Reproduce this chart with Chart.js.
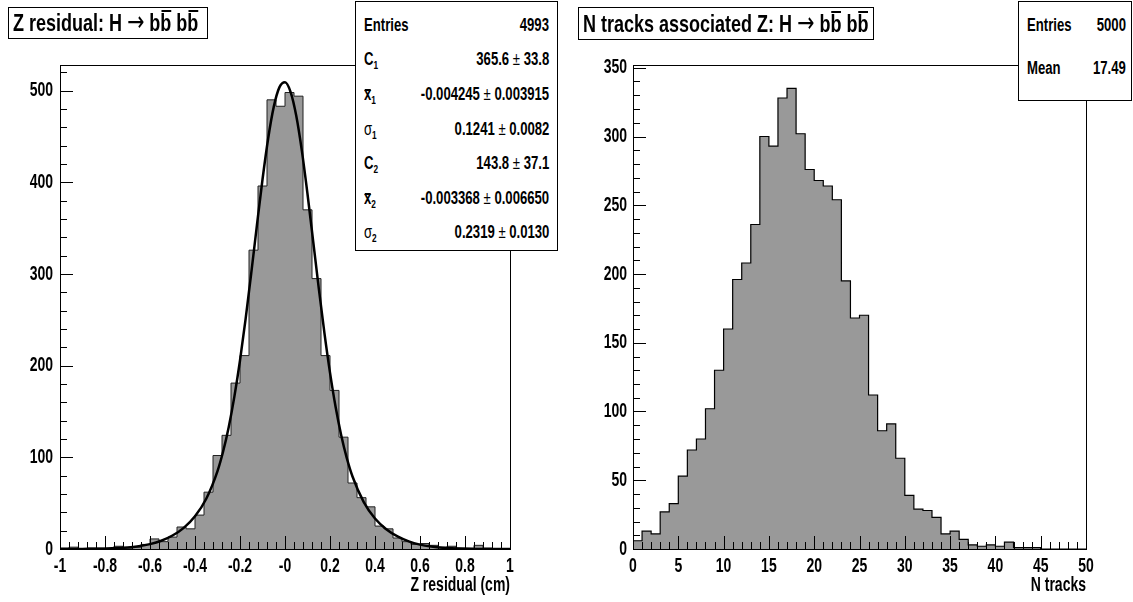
<!DOCTYPE html>
<html>
<head>
<meta charset="utf-8">
<script src="https://cdn.jsdelivr.net/npm/chart.js@4.4.0/dist/chart.umd.min.js"></script>
<style>
body { margin:0; background:#fff; width:1133px; height:602px; overflow:hidden; position:relative;
  font-family:'Liberation Sans',Arial,sans-serif; font-weight:bold; color:#000; }
canvas { position:absolute; top:0; }
.box { position:absolute; box-sizing:border-box; border:1px solid #000; background:#fff; white-space:nowrap; }
.title { font-size:24px; padding-left:4px; }
.arr { font-weight:normal; font-family:'DejaVu Sans',sans-serif; font-size:1.15em; line-height:0; }
.nl { display:inline-block; transform:scaleX(0.75); transform-origin:left center; }
.nr { display:inline-block; transform:scaleX(0.75); transform-origin:right center; }
.ob, .ox { position:relative; }
.ob::after { content:''; position:absolute; left:0.06em; right:0.02em; top:0.06em; border-top:2px solid #000; }
.ox::after { content:''; position:absolute; left:0.05em; right:0.05em; top:0.26em; border-top:2px solid #000; }
.row { position:absolute; left:0; right:0; height:22px; line-height:22px; font-size:17.5px; }
.row .k { position:absolute; left:8px; }
.row .v { position:absolute; right:8px; }
.row sub { font-size:11px; vertical-align:-4px; }
.sym { font-weight:normal; }
</style>
</head>
<body>
<canvas id="cz" width="566" height="602" style="left:0"></canvas>
<canvas id="cn" width="567" height="602" style="left:566px"></canvas>

<div class="box title" style="left:8px;top:7px;width:200px;height:32px;line-height:30px;"><span class="nl">Z residual: H <span class="arr">&rarr;</span> b<span class="ob">b</span> b<span class="ob">b</span></span></div>
<div class="box title" style="left:578px;top:7px;width:296px;height:33px;line-height:31px;"><span class="nl">N tracks associated Z: H <span class="arr">&rarr;</span> b<span class="ob">b</span> b<span class="ob">b</span></span></div>

<div class="box" style="left:355px;top:1px;width:203px;height:250px;">
  <div class="row" style="top:12px"><span class="k nl">Entries</span><span class="v nr">4993</span></div>
  <div class="row" style="top:46px"><span class="k nl">C<sub>1</sub></span><span class="v nr">365.6 <span class="sym">±</span> 33.8</span></div>
  <div class="row" style="top:81px"><span class="k nl"><span class="ox">x</span><sub>1</sub></span><span class="v nr">-0.004245 <span class="sym">±</span> 0.003915</span></div>
  <div class="row" style="top:116px"><span class="k nl"><span class="sym">σ</span><sub>1</sub></span><span class="v nr">0.1241 <span class="sym">±</span> 0.0082</span></div>
  <div class="row" style="top:150px"><span class="k nl">C<sub>2</sub></span><span class="v nr">143.8 <span class="sym">±</span> 37.1</span></div>
  <div class="row" style="top:185px"><span class="k nl"><span class="ox">x</span><sub>2</sub></span><span class="v nr">-0.003368 <span class="sym">±</span> 0.006650</span></div>
  <div class="row" style="top:219px"><span class="k nl"><span class="sym">σ</span><sub>2</sub></span><span class="v nr">0.2319 <span class="sym">±</span> 0.0130</span></div>
</div>
<div class="box" style="left:1018px;top:1px;width:114px;height:100px;">
  <div class="row" style="top:12px"><span class="k nl">Entries</span><span class="v nr" style="right:5px">5000</span></div>
  <div class="row" style="top:55px"><span class="k nl">Mean</span><span class="v nr" style="right:5px">17.49</span></div>
</div>

<script>
// Z residual histogram, 50 bins of 0.04 cm (low edges)
var zBinLow = [-1, -0.96, -0.92, -0.88, -0.84, -0.8, -0.76, -0.72, -0.68, -0.64,
  -0.6, -0.56, -0.52, -0.48, -0.44, -0.4, -0.36, -0.32, -0.28, -0.24,
  -0.2, -0.16, -0.12, -0.08, -0.04, 0, 0.04, 0.08, 0.12, 0.16,
  0.2, 0.24, 0.28, 0.32, 0.36, 0.4, 0.44, 0.48, 0.52, 0.56,
  0.6, 0.64, 0.68, 0.72, 0.76, 0.8, 0.84, 0.88, 0.92, 0.96];
var zCounts = [1, 2, 0, 1, 1, 1, 3, 1, 2, 5,
  11, 8, 13, 24, 22, 37, 62, 102, 124, 181,
  211, 326, 396, 490, 483, 498, 494, 370, 295, 211,
  173, 122, 72, 56, 46, 25, 22, 12, 8, 5,
  6, 4, 2, 3, 1, 1, 4, 1, 0, 0];
var zUpper = 1;

// double gaussian fit curve
var fitX = [-1, -0.9, -0.8, -0.7, -0.65, -0.6, -0.55, -0.5, -0.45, -0.4, -0.35, -0.3, -0.275, -0.25, -0.225,
  -0.2, -0.175, -0.15, -0.125, -0.1, -0.075, -0.05, -0.025, 0, 0.025, 0.05, 0.075, 0.1, 0.125, 0.15, 0.175,
  0.2, 0.225, 0.25, 0.275, 0.3, 0.35, 0.4, 0.45, 0.5, 0.55, 0.6, 0.65, 0.7, 0.8, 0.9, 1];
var fitY = [0, 0.1, 0.4, 1.6, 3.0, 5.3, 9.0, 14.7, 23.1, 35.7, 54.8, 85.0, 106.3, 133.1, 166.2,
  205.6, 251.1, 300.9, 352.8, 403.1, 447.6, 482.3, 503.6, 509.2, 498.5, 472.6, 434.3, 387.3, 336.2, 284.6, 236.0,
  192.4, 154.9, 123.9, 98.9, 79.1, 51.2, 33.3, 21.6, 13.7, 8.3, 4.8, 2.7, 1.4, 0.35, 0.07, 0];

var zXTicks = [-1, -0.8, -0.6, -0.4, -0.2, 0, 0.2, 0.4, 0.6, 0.8, 1];
var zXLabels = ['-1', '-0.8', '-0.6', '-0.4', '-0.2', '-0', '0.2', '0.4', '0.6', '0.8', '1'];
var zYTicks = [0, 100, 200, 300, 400, 500];

// N tracks histogram, bins of width 1
var trkBinLow = [0, 1, 2, 3, 4, 5, 6, 7, 8, 9, 10, 11, 12, 13, 14, 15, 16, 17, 18, 19,
  20, 21, 22, 23, 24, 25, 26, 27, 28, 29, 30, 31, 32, 33, 34, 35, 36, 37, 38, 39,
  40, 41, 42, 43, 44, 45, 46, 47, 48, 49];
var trkCounts = [6, 13, 11, 27, 33, 53, 72, 80, 102, 130, 160, 196, 208, 236, 300, 293, 328, 335, 302, 276,
  268, 264, 254, 195, 168, 170, 112, 86, 91, 66, 39, 29, 28, 23, 11, 13, 7, 3, 2, 3,
  2, 5, 1, 1, 1, 0, 0, 0, 0, 0];
var trkUpper = 50;

var trkXTicks = [0, 5, 10, 15, 20, 25, 30, 35, 40, 45, 50];
var trkYTicks = [0, 50, 100, 150, 200, 250, 300, 350];

var FONT = "'Liberation Sans', Arial, sans-serif";

function histPoints(low, counts, upper) {
  var pts = low.map(function(x, i) { return {x: x, y: counts[i]}; });
  pts.push({x: upper, y: counts[counts.length - 1]});
  return pts;
}

function fixedTicks(list) {
  return function(s) { s.ticks = list.map(function(v) { return {value: v}; }); };
}

// Helvetica-narrow look: squeeze all canvas text horizontally
var narrowText = {
  id: 'narrowText',
  beforeInit: function(chart) {
    var ctx = chart.ctx, orig = ctx.fillText;
    ctx.fillText = function(t, x, y, mw) {
      var w = this.measureText(t).width * 0.70;
      if (mw !== undefined && mw < w) w = mw;
      orig.call(this, t, x, y, w);
    };
  }
};

// ROOT style frame with ticks drawn inside
var rootFrame = {
  id: 'rootFrame',
  afterDatasetsDraw: function(chart, args, opts) {
    var ctx = chart.ctx, a = chart.chartArea, x = chart.scales.x, y = chart.scales.y;
    ctx.save();
    ctx.strokeStyle = '#000';
    ctx.lineWidth = 1;
    ctx.beginPath();
    var n = Math.round((x.max - x.min) / opts.xMinor);
    for (var i = 0; i <= n; i++) {
      var px = Math.round(x.getPixelForValue(x.min + i * opts.xMinor)) + 0.5;
      var len = (i % 5 === 0) ? 13 : 7;
      ctx.moveTo(px, a.bottom);
      ctx.lineTo(px, a.bottom - len);
    }
    var m = Math.floor(y.max / opts.yMinor);
    for (var j = 0; j <= m; j++) {
      var py = Math.round(y.getPixelForValue(j * opts.yMinor)) + 0.5;
      var l2 = (j % 5 === 0) ? 13 : 7;
      ctx.moveTo(a.left, py);
      ctx.lineTo(a.left + l2, py);
    }
    ctx.stroke();
    ctx.strokeRect(Math.round(a.left) + 0.5, Math.round(a.top) + 0.5,
      Math.round(a.right - a.left), Math.round(a.bottom - a.top));
    ctx.restore();
  }
};

function axisFont(size) { return {family: FONT, size: size, weight: 'bold'}; }

new Chart(document.getElementById('cz'), {
  type: 'line',
  data: {
    datasets: [{
      label: 'fit',
      data: fitX.map(function(x, i) { return {x: x, y: fitY[i]}; }),
      borderColor: '#000',
      borderWidth: 2.5,
      pointRadius: 0,
      cubicInterpolationMode: 'monotone',
      fill: false,
      order: 0
    }, {
      label: 'Z residual',
      data: histPoints(zBinLow, zCounts, zUpper),
      stepped: true,
      fill: 'origin',
      backgroundColor: '#999999',
      borderColor: '#222',
      borderWidth: 1,
      pointRadius: 0,
      order: 1
    }]
  },
  options: {
    responsive: false,
    animation: false,
    layout: {padding: {left: 0, right: 56, top: 65, bottom: 0}},
    plugins: {
      legend: {display: false},
      tooltip: {enabled: false},
      rootFrame: {xMinor: 0.04, yMinor: 20}
    },
    scales: {
      x: {
        type: 'linear', min: -1, max: 1,
        grid: {display: false, drawTicks: false}, border: {display: false},
        afterBuildTicks: fixedTicks(zXTicks),
        ticks: {
          color: '#000', font: axisFont(20), padding: 5, maxRotation: 0, autoSkip: false,
          callback: function(v, i) { return zXLabels[i]; }
        },
        title: {display: true, text: 'Z residual (cm)', align: 'end', color: '#000', font: axisFont(20), padding: {top: 0, bottom: 5}},
        afterFit: function(s) { s.height = 53; }
      },
      y: {
        min: 0, max: 528,
        grid: {display: false, drawTicks: false}, border: {display: false},
        afterBuildTicks: fixedTicks(zYTicks),
        ticks: {color: '#000', font: axisFont(20), padding: 7},
        afterFit: function(s) { s.width = 60; }
      }
    }
  },
  plugins: [narrowText, rootFrame]
});

new Chart(document.getElementById('cn'), {
  type: 'line',
  data: {
    datasets: [{
      label: 'N tracks',
      data: histPoints(trkBinLow, trkCounts, trkUpper),
      stepped: true,
      fill: 'origin',
      backgroundColor: '#999999',
      borderColor: '#000',
      borderWidth: 1.2,
      pointRadius: 0
    }]
  },
  options: {
    responsive: false,
    animation: false,
    layout: {padding: {left: 0, right: 47, top: 65, bottom: 0}},
    plugins: {
      legend: {display: false},
      tooltip: {enabled: false},
      rootFrame: {xMinor: 1, yMinor: 10}
    },
    scales: {
      x: {
        type: 'linear', min: 0, max: 50,
        grid: {display: false, drawTicks: false}, border: {display: false},
        afterBuildTicks: fixedTicks(trkXTicks),
        ticks: {color: '#000', font: axisFont(20), padding: 5, maxRotation: 0, autoSkip: false},
        title: {display: true, text: 'N tracks', align: 'end', color: '#000', font: axisFont(20), padding: {top: 0, bottom: 5}},
        afterFit: function(s) { s.height = 53; }
      },
      y: {
        min: 0, max: 352,
        grid: {display: false, drawTicks: false}, border: {display: false},
        afterBuildTicks: fixedTicks(trkYTicks),
        ticks: {color: '#000', font: axisFont(20), padding: 6},
        afterFit: function(s) { s.width = 67; }
      }
    }
  },
  plugins: [narrowText, rootFrame]
});
</script>
</body>
</html>
